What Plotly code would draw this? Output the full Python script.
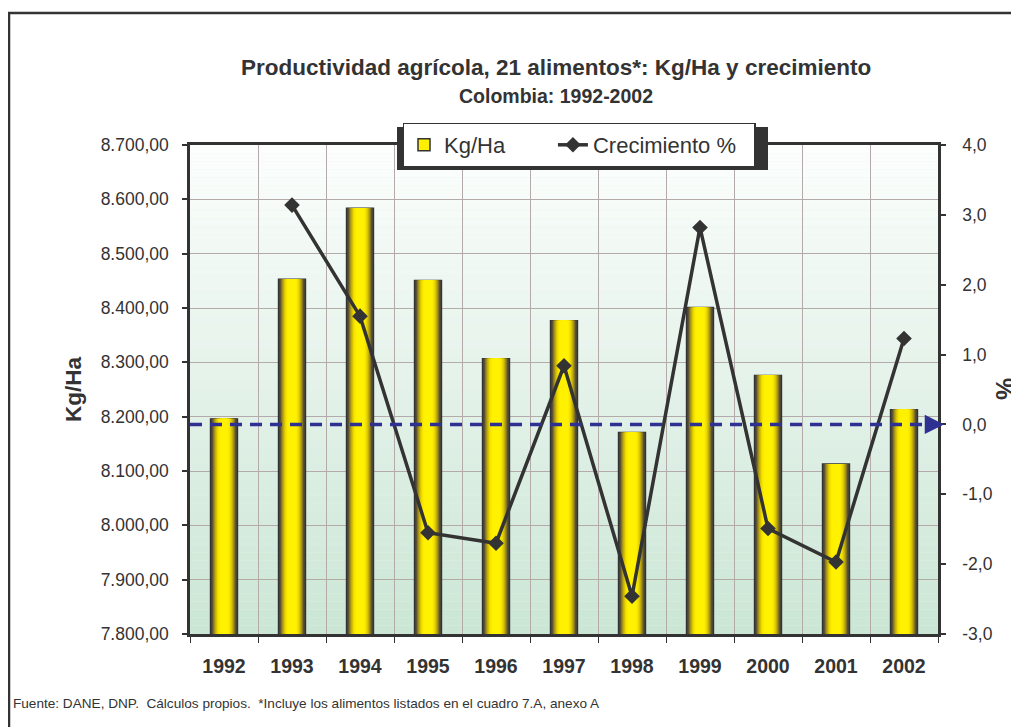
import plotly.graph_objects as go

# ---------------- data ----------------
years = ["1992", "1993", "1994", "1995", "1996", "1997", "1998", "1999", "2000", "2001", "2002"]
kg_ha = [8196, 8453, 8584, 8451, 8307, 8377, 8171, 8401, 8276, 8113, 8213]
crecimiento = [None, 3.14, 1.55, -1.55, -1.70, 0.84, -2.46, 2.82, -1.49, -1.97, 1.23]

left_ticks = [7800, 7900, 8000, 8100, 8200, 8300, 8400, 8500, 8600, 8700]
right_ticks = [-3, -2, -1, 0, 1, 2, 3, 4]
right_labels = ["-3,0", "-2,0", "-1,0", "0,0", "1,0", "2,0", "3,0", "4,0"]

title = "Productividad agrícola, 21 alimentos*: Kg/Ha y crecimiento"
subtitle = "Colombia: 1992-2002"
footer = "Fuente: DANE, DNP.  Cálculos propios.  *Incluye los alimentos listados en el cuadro 7.A, anexo A"
name_bars = "Kg/Ha"
name_line = "Crecimiento %"

# ---------------- layout geometry (screen pixels; page body adds 8px offset) ----------------
OFF = 8
W, H = 1019 - OFF, 727 - OFF
PX0, PX1, PY0, PY1 = 190, 938, 145, 634          # plot area on screen
L, R = PX0 - OFF, W - (PX1 - OFF)
T, B = PY0 - OFF, H - (PY1 - OFF)
PW, PH = W - L - R, H - T - B


def px_x(sx):
    return (sx - OFF - L) / PW


def px_y(sy):
    return (H - B - (sy - OFF)) / PH


FONT = "Liberation Sans, Arial, sans-serif"
DARK = "#333333"
NAVY = "#2E3192"


def mix(c1, c2, t):
    return "#%02x%02x%02x" % tuple(int(round(a + (b - a) * t)) for a, b in zip(c1, c2))


# horizontal profile of the cylinder-like bars: distance from centre (0) to edge (1)
profile = [(0.0, (255, 242, 0)), (0.3, (255, 240, 0)), (0.45, (242, 224, 0)),
           (0.6, (205, 184, 0)), (0.72, (154, 138, 32)), (0.84, (94, 85, 53)),
           (1.0, (56, 56, 56))]


def prof_color(d):
    for (d0, c0), (d1, c1) in zip(profile[:-1], profile[1:]):
        if d0 <= d <= d1:
            return mix(c0, c1, (d - d0) / (d1 - d0))
    return mix(profile[-1][1], profile[-1][1], 0)


fig = go.Figure()

BAR_W = 0.40
N = 16
for k in range(N):
    outer = 1 - k / N
    mid = 1 - (k + 0.5) / N
    fig.add_trace(go.Bar(
        x=years, y=kg_ha, width=BAR_W * outer,
        marker=dict(color=prof_color(mid),
                    line=dict(color=DARK, width=1.2 if k == 0 else 0)),
        showlegend=False, hoverinfo="skip", yaxis="y",
    ))

# legend-only entry for the bars
fig.add_trace(go.Bar(
    x=years[:1], y=[None], name=name_bars + "\u00a0" * 7,
    marker=dict(color="#FFEF00", line=dict(color=DARK, width=1.5)),
    showlegend=True, yaxis="y",
))

fig.add_trace(go.Scatter(
    x=years, y=crecimiento, name=name_line + "\u00a0" * 2, yaxis="y2",
    mode="lines+markers",
    line=dict(color=DARK, width=3.5),
    marker=dict(symbol="diamond", size=12, color=DARK),
    connectgaps=False,
))

shapes = []
# vertical gradient background of the plot area
NB = 60
top_c, bot_c = (252, 254, 253), (203, 230, 213)
for i in range(NB):
    shapes.append(dict(type="rect", xref="x domain", yref="y domain",
                       x0=0, x1=1, y0=i / NB, y1=(i + 1) / NB,
                       fillcolor=mix(bot_c, top_c, (i + 0.5) / NB),
                       line=dict(width=0), layer="below"))
# dashed zero line on the right axis
shapes.append(dict(type="line", xref="x domain", yref="y2", x0=0, x1=0.985, y0=0, y1=0,
                   line=dict(color=NAVY, width=3.5, dash="12px,8px"), layer="above"))
# outer chart border
shapes.append(dict(type="rect", xref="paper", yref="paper",
                   x0=px_x(9), x1=px_x(1040), y0=px_y(750), y1=px_y(13),
                   line=dict(color=DARK, width=2.5), fillcolor="rgba(0,0,0,0)", layer="below"))
# legend drop shadow
shapes.append(dict(type="rect", xref="paper", yref="paper",
                   x0=px_x(397), x1=px_x(768), y0=px_y(170), y1=px_y(127),
                   line=dict(width=0), fillcolor=DARK, layer="above"))

annotations = [
    dict(text="<b>%s</b>" % title, x=px_x(556), y=px_y(67), xref="paper", yref="paper",
         xanchor="center", yanchor="middle", showarrow=False,
         font=dict(family=FONT, size=22.5, color=DARK)),
    dict(text="<b>%s</b>" % subtitle, x=px_x(556), y=px_y(96), xref="paper", yref="paper",
         xanchor="center", yanchor="middle", showarrow=False,
         font=dict(family=FONT, size=19.5, color=DARK)),
    dict(text=footer, x=px_x(11), y=px_y(703), xref="paper", yref="paper",
         xanchor="left", yanchor="middle", showarrow=False,
         font=dict(family=FONT, size=13.6, color=DARK)),
    dict(text="<b>Kg/Ha</b>", x=px_x(73), y=px_y(390), xref="paper", yref="paper",
         xanchor="center", yanchor="middle", showarrow=False, textangle=-90,
         font=dict(family=FONT, size=22.5, color=DARK)),
    dict(text="<b>%</b>", x=px_x(1005), y=px_y(389), xref="paper", yref="paper",
         xanchor="center", yanchor="middle", showarrow=False, textangle=-90,
         font=dict(family=FONT, size=25, color=DARK)),
    dict(text="", x=1.008, y=0, xref="x domain", yref="y2", showarrow=True,
         ax=-14, ay=0, arrowhead=2, arrowsize=1.1, arrowwidth=3.5, arrowcolor=NAVY),
]

fig.update_layout(
    width=W, height=H,
    margin=dict(l=L, r=R, t=T, b=B, autoexpand=False),
    paper_bgcolor="white", plot_bgcolor="#e6f2ea",
    separators=",.",
    barmode="overlay",
    font=dict(family=FONT, color=DARK),
    shapes=shapes, annotations=annotations,
    showlegend=True,
    legend=dict(orientation="h", x=px_x(579), xanchor="center", y=px_y(145), yanchor="middle",
                bgcolor="white", bordercolor=DARK, borderwidth=1.5,
                font=dict(family=FONT, size=22, color=DARK),
                traceorder="normal"),
    xaxis=dict(type="category", tickson="boundaries", showgrid=True,
               gridcolor="#B5AAAA", gridwidth=1.3,
               showline=True, linecolor=DARK, linewidth=2.5, mirror=True,
               ticks="outside", ticklen=6, tickcolor=DARK, tickwidth=1.3,
               tickfont=dict(family=FONT, size=19.5, color=DARK, weight="bold"),
               ticklabelstandoff=13, range=[-0.5, 10.5]),
    yaxis=dict(range=[7800, 8700], tickvals=left_ticks, tickformat=",.2f",
               showgrid=True, gridcolor="#B5AAAA", gridwidth=1.3, zeroline=False,
               showline=True, linecolor=DARK, linewidth=2.5,
               ticks="outside", ticklen=5, tickcolor=DARK, tickwidth=1.5,
               tickfont=dict(family=FONT, size=17.5, color=DARK), ticklabelstandoff=10),
    yaxis2=dict(range=[-3, 4], tickvals=right_ticks, ticktext=right_labels,
                overlaying="y", side="right", showgrid=False, zeroline=False,
                showline=True, linecolor=DARK, linewidth=2.5,
                ticks="outside", ticklen=5, tickcolor=DARK, tickwidth=2,
                tickfont=dict(family=FONT, size=17.5, color=DARK), ticklabelstandoff=13),
    # inner half of the crossing tick marks on the right axis
    yaxis3=dict(range=[-3, 4], tickvals=right_ticks, overlaying="y", side="right",
                anchor="x", showgrid=False, zeroline=False, showline=False,
                ticks="inside", ticklen=5, tickcolor=DARK, tickwidth=2,
                showticklabels=False),
)

fig.write_html("out.html")
